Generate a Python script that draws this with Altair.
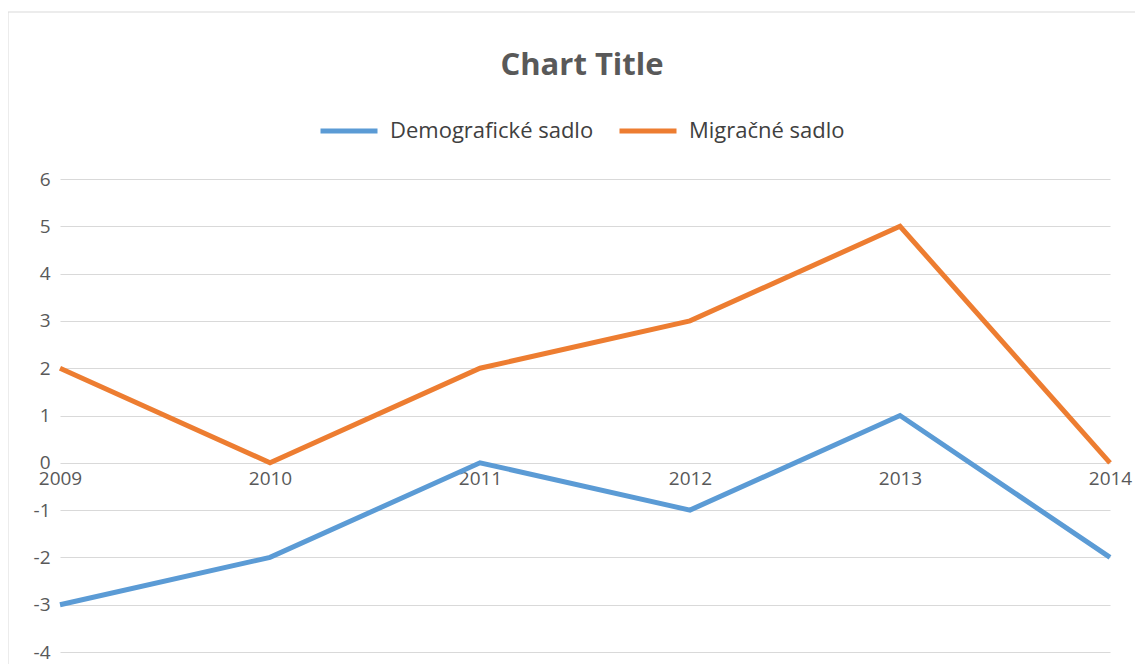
import altair as alt
import pandas as pd

years = ["2009", "2010", "2011", "2012", "2013", "2014"]
demo = [-3, -2, 0, -1, 1, -2]
migr = [2, 0, 2, 3, 5, 0]
series_names = ["Demografické sadlo", "Migračné sadlo"]
colors = ["#5b9bd5", "#ed7d31"]
y_ticks = list(range(-4, 7))
chart_title = "Chart Title"

rows = []
for name, vals in zip(series_names, [demo, migr]):
    for yr, v in zip(years, vals):
        rows.append({"rok": yr, "hodnota": v, "séria": name})
df = pd.DataFrame(rows)

FONT = "Open Sans"
GRAY = "#595959"

lines = alt.Chart(df).mark_line(strokeWidth=5, strokeCap="butt", strokeJoin="miter").encode(
    x=alt.X("rok:O", scale=alt.Scale(type="point", padding=0),
            axis=alt.Axis(title=None, labelAngle=0, domain=False, ticks=False,
                          offset=-189, labelPadding=6, labelFontSize=19,
                          labelColor=GRAY, labelFont=FONT, grid=False)),
    y=alt.Y("hodnota:Q", scale=alt.Scale(domain=[-4, 6], nice=False, zero=False),
            axis=alt.Axis(title=None, values=y_ticks, domain=False, ticks=False,
                          labelExpr="'' + datum.value",
                          labelPadding=10, labelFontSize=19, labelColor=GRAY,
                          labelFont=FONT, gridColor="#d9d9d9", gridWidth=1)),
    color=alt.Color("séria:N", scale=alt.Scale(domain=series_names, range=colors),
                    legend=alt.Legend(title=None, orient="none", direction="horizontal",
                                      legendX=258, legendY=-79, symbolType="stroke",
                                      symbolSize=3249, symbolStrokeWidth=5,
                                      labelFontSize=22, labelFont=FONT, labelLimit=0,
                                      labelColor="#404040", labelOffset=10,
                                      columnPadding=15)),
)

title = alt.Chart(pd.DataFrame({"t": [chart_title]})).mark_text(
    font=FONT, fontSize=31, fontWeight="bold", color=GRAY, align="center", baseline="alphabetic"
).encode(text="t:N", x=alt.value(522), y=alt.value(-104))

border_top = alt.Chart(pd.DataFrame({"a": [0]})).mark_rule(color="#d9d9d9", strokeWidth=1).encode(
    x=alt.value(-60), x2=alt.value(1100), y=alt.value(-167)
)
border_left = alt.Chart(pd.DataFrame({"a": [0]})).mark_rule(color="#d9d9d9", strokeWidth=1).encode(
    x=alt.value(-52), y=alt.value(-167), y2=alt.value(500)
)

chart = alt.layer(border_top, border_left, title, lines).properties(
    width=1050, height=473,
    padding={"left": 52, "top": 171, "right": 25, "bottom": 12},
    autosize=alt.AutoSizeParams(type="none"),
).configure_view(stroke=None)

chart.save("out.html", embed_options={"renderer": "svg", "actions": False})
